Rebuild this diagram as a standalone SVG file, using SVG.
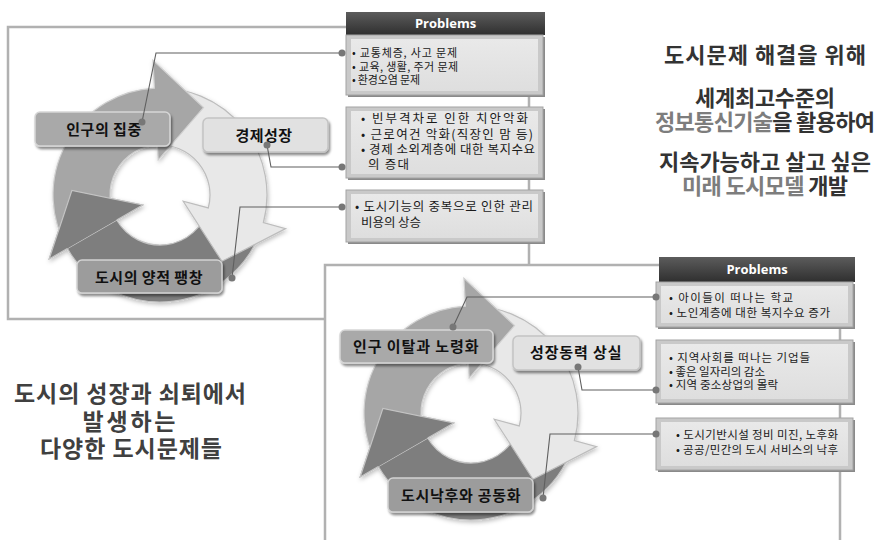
<svg xmlns="http://www.w3.org/2000/svg" width="879" height="540" viewBox="0 0 879 540">
<defs>
  <filter id="sh" x="-10%" y="-20%" width="130%" height="160%">
    <feDropShadow dx="1.5" dy="2.5" stdDeviation="1.3" flood-color="#000" flood-opacity="0.45"/>
  </filter>
  <filter id="csh" x="-10%" y="-10%" width="125%" height="125%">
    <feDropShadow dx="1" dy="2" stdDeviation="2" flood-color="#000" flood-opacity="0.25"/>
  </filter>
  <linearGradient id="hdr" x1="0" y1="0" x2="0" y2="1">
    <stop offset="0" stop-color="#5c5c5c"/>
    <stop offset="1" stop-color="#2f2f2f"/>
  </linearGradient>
  <linearGradient id="bxg" x1="0" y1="0" x2="0" y2="1">
    <stop offset="0" stop-color="#e9e9e9"/>
    <stop offset="1" stop-color="#dedede"/>
  </linearGradient>
  <g id="cyc">
    <path fill="#7e7e7e" stroke="#c4c4c4" stroke-width="1.2" d="M263.35,222.69 A107,107 0 0 1 67.34,248.5 L49.15,259 L71.91,190.43 L142.68,205 L116.7,220 A50,50 0 0 0 208.3,207.94 Z"/>
    <path fill="#e8e8e8" stroke="#bdbdbd" stroke-width="1.2" d="M154.4,88.15 A107,107 0 0 1 263.35,222.69 L285.57,228.65 L221.96,261.29 L183.18,201.21 L208.3,207.94 A50,50 0 0 0 157.38,145.07 Z"/>
    <path fill="#a6a6a6" stroke="#d0d0d0" stroke-width="1.2" d="M67.34,248.5 A107,107 0 0 1 154.4,88.15 L152.93,60.19 L203.5,107.6 L158.17,160.05 L157.38,145.07 A50,50 0 0 0 116.7,220 Z"/>
    <path fill="#7e7e7e" d="M67.34,248.5 L49.15,259 L71.91,190.43 L142.68,205 L116.7,220 Z"/>
    <path fill="none" stroke="#c4c4c4" stroke-width="1.2" d="M67.34,248.5 L49.15,259 L71.91,190.43 L142.68,205 L116.7,220"/>
  </g>
</defs>
<style>
  .frame{fill:none;stroke:#b1b1b1;stroke-width:2.5}
  .kr{font-family:"Noto Sans CJK KR","Noto Sans",sans-serif}
  .lbl{font-size:15px;font-weight:700;fill:#111;text-anchor:middle;letter-spacing:0.5px}
  .lb1{fill:#a9a9a9;stroke:#d6d6d6;stroke-width:1.5}
  .lb2{fill:#e1e1e1;stroke:#c4c4c4;stroke-width:1.5}
  .lb3{fill:#9c9c9c;stroke:#d2d2d2;stroke-width:1.5}
  .bxs{fill:#8a8a8a}
  .bx{fill:#c9c9c9;stroke:#a3a3a3;stroke-width:1}
  .bxi{fill:url(#bxg)}
  .bt{font-size:11.5px;fill:#1a1a1a}
  .ht{font-family:"Open Sans","Liberation Sans",sans-serif;font-weight:700;font-size:13px;fill:#fff;text-anchor:middle}
  .cn{fill:none;stroke:#5f5f5f;stroke-width:1.1}
  .dot{fill:#777}
  .big{font-weight:700;text-anchor:middle;fill:#333}
  .gr{fill:#7d7d7d}
</style>

<g id="frames">
  <polyline class="frame" points="529,265 529,27 8,27 8,319 325,319"/>
  <polyline class="frame" points="325,540 325,265 660,265"/>
  <line class="frame" x1="840" y1="282" x2="840" y2="540"/>
</g>

<g id="cycle-top" filter="url(#csh)"><use href="#cyc"/></g>
<g id="cycle-bottom" filter="url(#csh)"><use href="#cyc" transform="translate(311,218)"/></g>

<g id="label-population-concentration">
  <rect class="lb1" x="35" y="112" width="135" height="34" rx="5" filter="url(#sh)"/>
  <text class="kr lbl" x="104" y="135">인구의 집중</text>
</g>
<g id="label-economic-growth">
  <rect class="lb2" x="203" y="118" width="125" height="34" rx="5" filter="url(#sh)"/>
  <text class="kr lbl" x="264" y="141">경제성장</text>
</g>
<g id="label-quantitative-expansion">
  <rect class="lb3" x="77" y="260" width="145" height="33" rx="5" filter="url(#sh)"/>
  <text class="kr lbl" x="149" y="283">도시의 양적 팽창</text>
</g>

<g id="label-population-outflow">
  <rect class="lb1" x="340" y="330" width="153" height="33" rx="5" filter="url(#sh)"/>
  <text class="kr lbl" x="416" y="352" textLength="126">인구 이탈과 노령화</text>
</g>
<g id="label-growth-loss">
  <rect class="lb2" x="513" y="336" width="127" height="34" rx="5" filter="url(#sh)"/>
  <text class="kr lbl" x="576" y="358" textLength="92">성장동력 상실</text>
</g>
<g id="label-decline">
  <rect class="lb3" x="388" y="478" width="145" height="34" rx="5" filter="url(#sh)"/>
  <text class="kr lbl" x="461" y="501" textLength="120">도시낙후와 공동화</text>
</g>

<g id="problems-top-header">
  <rect x="346" y="12" width="199" height="23" fill="url(#hdr)"/>
  <text class="ht" x="445.5" y="28">Problems</text>
</g>
<g id="problems-top-1">
  <rect class="bxs" x="348" y="37" width="197" height="60"/>
  <rect class="bx" x="346" y="35" width="197" height="60"/>
  <rect class="bxi" x="351" y="39" width="187" height="52"/>
  <text class="kr bt" style="font-size:11px" x="352" y="57" textLength="105">• 교통체증, 사고 문제</text>
  <text class="kr bt" style="font-size:11px" x="352" y="71" textLength="106">• 교육, 생활, 주거 문제</text>
  <text class="kr bt" style="font-size:11px" x="352" y="84" textLength="68">• 환경오염 문제</text>
</g>
<g id="problems-top-2">
  <rect class="bxs" x="348" y="109" width="197" height="71"/>
  <rect class="bx" x="346" y="107" width="197" height="71"/>
  <rect class="bxi" x="351" y="111" width="187" height="63"/>
  <text class="kr bt" style="font-size:12.5px" x="361" y="123" textLength="167">• 빈부격차로 인한 치안악화</text>
  <text class="kr bt" style="font-size:12.5px" x="361" y="139" textLength="172">• 근로여건 악화(직장인 맘 등)</text>
  <text class="kr bt" style="font-size:12.5px" x="361" y="154" textLength="174">• 경제 소외계층에 대한 복지수요</text>
  <text class="kr bt" style="font-size:12.5px" x="368" y="169" textLength="41">의 증대</text>
</g>
<g id="problems-top-3">
  <rect class="bxs" x="348" y="192" width="197" height="52"/>
  <rect class="bx" x="346" y="190" width="197" height="52"/>
  <rect class="bxi" x="351" y="194" width="187" height="44"/>
  <text class="kr bt" style="font-size:12.5px" x="355" y="211" textLength="178">• 도시기능의 중복으로 인한 관리</text>
  <text class="kr bt" style="font-size:12.5px" x="361" y="227" textLength="60">비용의 상승</text>
</g>

<g id="problems-bottom-header">
  <rect x="659" y="257" width="196" height="25" fill="url(#hdr)"/>
  <text class="ht" x="757" y="274">Problems</text>
</g>
<g id="problems-bottom-1">
  <rect class="bxs" x="658" y="284" width="197" height="45"/>
  <rect class="bx" x="656" y="282" width="197" height="45"/>
  <rect class="bxi" x="661" y="286" width="187" height="37"/>
  <text class="kr bt" x="669" y="302" textLength="124">• 아이들이 떠나는 학교</text>
  <text class="kr bt" x="669" y="317" textLength="161">• 노인계층에 대한 복지수요 증가</text>
</g>
<g id="problems-bottom-2">
  <rect class="bxs" x="658" y="342" width="197" height="63"/>
  <rect class="bx" x="656" y="340" width="197" height="63"/>
  <rect class="bxi" x="661" y="344" width="187" height="55"/>
  <text class="kr bt" x="669" y="362" textLength="141">•  지역사회를 떠나는 기업들</text>
  <text class="kr bt" x="669" y="376" textLength="96">• 좋은 일자리의 감소</text>
  <text class="kr bt" x="669" y="389" textLength="109">• 지역 중소상업의 몰락</text>
</g>
<g id="problems-bottom-3">
  <rect class="bxs" x="658" y="420" width="197" height="52"/>
  <rect class="bx" x="656" y="418" width="197" height="52"/>
  <rect class="bxi" x="661" y="422" width="187" height="44"/>
  <text class="kr bt" x="676" y="439" textLength="162">• 도시기반시설 정비 미진, 노후화</text>
  <text class="kr bt" x="676" y="454" textLength="162">• 공공/민간의 도시 서비스의 낙후</text>
</g>

<g id="text-solution" class="kr big" style="font-size:22px">
  <text x="765" y="63" textLength="202">도시문제 해결을 위해</text>
  <text x="765" y="106" textLength="140">세계최고수준의</text>
  <text x="765" y="130" textLength="220"><tspan class="gr">정보통신기술</tspan>을 활용하여</text>
  <text x="765" y="170" textLength="212">지속가능하고 살고 싶은</text>
  <text x="765" y="194" textLength="166"><tspan class="gr">미래 도시모델</tspan> 개발</text>
</g>

<g id="text-problems" class="kr big" style="font-size:23px;fill:#404040">
  <text x="130" y="402" textLength="232">도시의 성장과 쇠퇴에서</text>
  <text x="129" y="430" textLength="93">발생하는</text>
  <text x="131" y="457" textLength="182">다양한 도시문제들</text>
</g>

<g id="connectors">
  <polyline class="cn" points="142,122 156,53 342,53"/>
  <polyline class="cn" points="267,145 271,167 342,167"/>
  <polyline class="cn" points="232,278 240,207 342,207"/>
  <polyline class="cn" points="453,327 467,297 656,297"/>
  <polyline class="cn" points="578,367 582,390 656,390"/>
  <polyline class="cn" points="543,498 550,434 656,434"/>
  <circle class="dot" cx="142" cy="122" r="3.5"/>
  <circle class="dot" cx="342" cy="53" r="3.5"/>
  <circle class="dot" cx="267" cy="145" r="3.5"/>
  <circle class="dot" cx="342" cy="167" r="3.5"/>
  <circle class="dot" cx="232" cy="278" r="3.5"/>
  <circle class="dot" cx="342" cy="207" r="3.5"/>
  <circle class="dot" cx="453" cy="327" r="3.5"/>
  <circle class="dot" cx="656" cy="297" r="3.5"/>
  <circle class="dot" cx="578" cy="367" r="3.5"/>
  <circle class="dot" cx="656" cy="390" r="3.5"/>
  <circle class="dot" cx="543" cy="498" r="3.5"/>
  <circle class="dot" cx="656" cy="434" r="3.5"/>
</g>
</svg>
